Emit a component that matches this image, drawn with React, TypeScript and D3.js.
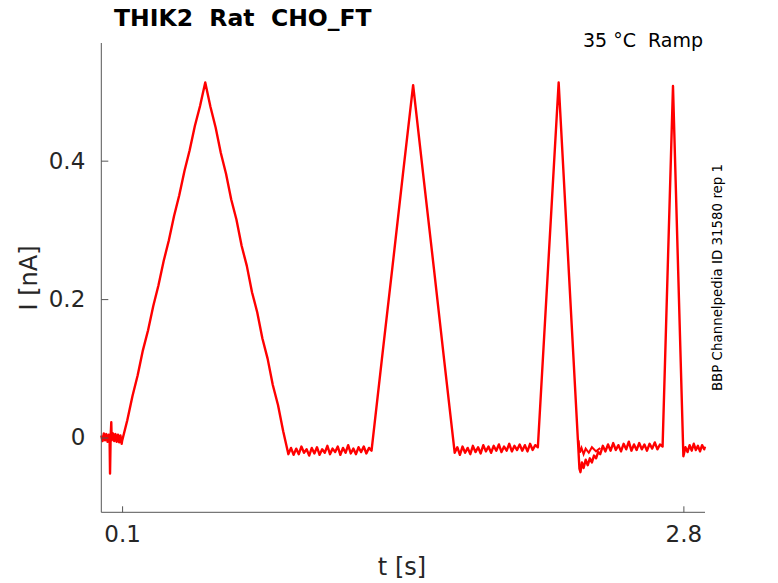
import React, { useEffect, useRef } from 'react';
import * as d3 from 'd3';

// Holding period before the first ramp, t in s, I in nA
const holding: [number, number][] = [
  [0, 0.003], [0.006, -0.005], [0.012, 0.006], [0.018, -0.004], [0.024, 0.005],
  [0.03, -0.006], [0.036, 0.004], [0.04, -0.003], [0.042, -0.052], [0.045, 0.002],
  [0.048, 0.022], [0.05, -0.004], [0.056, 0.006], [0.062, -0.005], [0.068, 0.005],
  [0.074, -0.006], [0.08, 0.004], [0.086, -0.007], [0.092, 0.003], [0.098, -0.009],
  [0.1, -0.005],
];

// Slow ramp (up and down)
const ramp1: [number, number][] = [
  [0.125, 0.025], [0.15, 0.06], [0.175, 0.09], [0.2, 0.126], [0.225, 0.155],
  [0.25, 0.19], [0.275, 0.22], [0.3, 0.255], [0.325, 0.285], [0.35, 0.32],
  [0.375, 0.35], [0.4, 0.385], [0.425, 0.415], [0.45, 0.45], [0.475, 0.479],
  [0.5, 0.513],
  [0.525, 0.478], [0.55, 0.448], [0.575, 0.411], [0.6, 0.381], [0.625, 0.344],
  [0.65, 0.315], [0.675, 0.277], [0.7, 0.248], [0.725, 0.21], [0.75, 0.181],
  [0.775, 0.143], [0.8, 0.114], [0.825, 0.076], [0.85, 0.047], [0.875, 0.009],
  [0.9, -0.024],
];

const gap1: [number, number][] = [
  [0.9125, -0.015], [0.925, -0.025], [0.9375, -0.016], [0.95, -0.024], [0.9625, -0.013],
  [0.975, -0.022], [0.9875, -0.017], [1.0, -0.026], [1.0125, -0.015], [1.025, -0.023],
  [1.0375, -0.014], [1.05, -0.025], [1.0625, -0.017], [1.075, -0.022], [1.0875, -0.012],
  [1.1, -0.024], [1.1125, -0.016], [1.125, -0.021], [1.1375, -0.013], [1.15, -0.025],
  [1.1625, -0.015], [1.175, -0.022], [1.1875, -0.011], [1.2, -0.023], [1.2125, -0.016],
  [1.225, -0.024], [1.2375, -0.014], [1.25, -0.021], [1.2625, -0.013], [1.275, -0.023],
  [1.2875, -0.015], [1.3, -0.019],
];

const ramp2: [number, number][] = [
  [1.35, 0.114], [1.4, 0.245], [1.45, 0.378], [1.5, 0.509],
  [1.55, 0.376], [1.6, 0.244], [1.65, 0.11], [1.7, -0.022],
];

const gap2: [number, number][] = [
  [1.7125, -0.014], [1.725, -0.025], [1.7375, -0.013], [1.75, -0.022], [1.7625, -0.015],
  [1.775, -0.024], [1.7875, -0.012], [1.8, -0.021], [1.8125, -0.014], [1.825, -0.023],
  [1.8375, -0.011], [1.85, -0.02], [1.8625, -0.013], [1.875, -0.022], [1.8875, -0.012],
  [1.9, -0.019], [1.9125, -0.01], [1.925, -0.021], [1.9375, -0.013], [1.95, -0.019],
  [1.9625, -0.009], [1.975, -0.02], [1.9875, -0.012], [2.0, -0.018], [2.0125, -0.01],
  [2.025, -0.019], [2.0375, -0.011], [2.05, -0.02], [2.0625, -0.009], [2.075, -0.018],
  [2.0875, -0.011], [2.1, -0.014],
];

const ramp3: [number, number][] = [
  [2.15, 0.25], [2.2, 0.513], [2.25, 0.234], [2.3, -0.045],
];

// after the third ramp one repetition dips lower before settling
const gap3: [number, number][] = [
  [2.305, -0.05], [2.312, -0.036], [2.32, -0.044], [2.33, -0.032], [2.34, -0.04],
  [2.35, -0.03], [2.36, -0.036], [2.37, -0.026], [2.38, -0.03], [2.39, -0.021],
  [2.4, -0.024], [2.4125, -0.012], [2.425, -0.02], [2.4375, -0.01], [2.45, -0.019],
  [2.4625, -0.008], [2.475, -0.018], [2.4875, -0.011], [2.5, -0.02], [2.5125, -0.009],
  [2.525, -0.017], [2.5375, -0.006], [2.55, -0.019], [2.5625, -0.01], [2.575, -0.018],
  [2.5875, -0.008], [2.6, -0.017], [2.6125, -0.01], [2.625, -0.019], [2.6375, -0.009],
  [2.65, -0.016], [2.6625, -0.007], [2.675, -0.017], [2.6875, -0.01], [2.7, -0.013],
];

const ramp4: [number, number][] = [
  [2.725, 0.248], [2.75, 0.508], [2.775, 0.24], [2.8, -0.027],
];

const tail: [number, number][] = [
  [2.81, -0.014], [2.82, -0.021], [2.83, -0.011], [2.84, -0.019], [2.85, -0.009],
  [2.86, -0.018], [2.87, -0.012], [2.88, -0.02], [2.89, -0.011], [2.9, -0.017],
  [2.904, -0.013],
];

// second repetition that stays on the baseline after ramp 3
const repOverlap: [number, number][] = [
  [2.296, -0.004], [2.302, -0.022], [2.31, -0.015], [2.32, -0.024], [2.33, -0.016],
  [2.345, -0.022], [2.36, -0.014], [2.38, -0.02], [2.4, -0.015],
];

const xTicks = [0.1, 2.8];
const yTicks = [0, 0.2, 0.4];

export default function App() {
  const ref = useRef<SVGSVGElement>(null);

  useEffect(() => {
    if (!ref.current) return;
    const svg = d3.select(ref.current);
    svg.selectAll('*').remove();

    const width = 778;
    const height = 583;
    const left = 101.3, right = 705, top = 43, bottom = 512.3;
    const font = 'DejaVu Sans, sans-serif';
    const textColor = '#262626';
    const axisColor = '#555';

    svg.attr('width', width).attr('height', height);
    svg.append('rect').attr('width', width).attr('height', height).attr('fill', '#fff');

    const x = d3.scaleLinear().domain([0, 2.904]).range([left, right]);
    const y = d3.scaleLinear().domain([-0.108, 0.570]).range([bottom, top]);

    // trace
    const line = d3.line<[number, number]>()
      .x(d => x(d[0]))
      .y(d => y(d[1]));

    const trace = [
      ...holding, ...ramp1, ...gap1, ...ramp2, ...gap2,
      ...ramp3, ...gap3, ...ramp4, ...tail,
    ];

    svg.append('path')
      .attr('d', line(repOverlap))
      .attr('fill', 'none')
      .attr('stroke', '#ff0000')
      .attr('stroke-width', 2);

    svg.append('path')
      .attr('d', line(trace))
      .attr('fill', 'none')
      .attr('stroke', '#ff0000')
      .attr('stroke-width', 2.4)
      .attr('stroke-linejoin', 'round');

    // axes
    const yAxis = d3.axisLeft(y)
      .tickValues(yTicks)
      .tickFormat(d => String(d))
      .tickSizeInner(-7)
      .tickSizeOuter(0)
      .tickPadding(16);

    const gy = svg.append('g')
      .attr('transform', `translate(${left},0)`)
      .call(yAxis);
    gy.select('.domain').attr('stroke', axisColor).attr('d', `M0,${bottom}V${top}`);
    gy.selectAll('.tick line').attr('stroke', axisColor);
    gy.selectAll('.tick text')
      .attr('fill', textColor)
      .style('font-family', font)
      .style('font-size', '23px');

    const xAxis = d3.axisBottom(x)
      .tickValues(xTicks)
      .tickFormat(d => String(d))
      .tickSizeInner(-6)
      .tickSizeOuter(0)
      .tickPadding(13);

    const gx = svg.append('g')
      .attr('transform', `translate(0,${bottom})`)
      .call(xAxis);
    gx.select('.domain').attr('stroke', axisColor).attr('d', `M${left},0H${right}`);
    gx.selectAll('.tick line').attr('stroke', axisColor);
    gx.selectAll('.tick text')
      .attr('fill', textColor)
      .style('font-family', font)
      .style('font-size', '23px');

    // labels
    svg.append('text')
      .attr('x', 402)
      .attr('y', 574.5)
      .attr('text-anchor', 'middle')
      .attr('fill', textColor)
      .style('font-family', font)
      .style('font-size', '24px')
      .text('t [s]');

    svg.append('text')
      .attr('transform', 'translate(36.5,278) rotate(-90)')
      .attr('text-anchor', 'middle')
      .attr('fill', textColor)
      .style('font-family', font)
      .style('font-size', '24px')
      .text('I [nA]');

    svg.append('text')
      .attr('x', 114)
      .attr('y', 26)
      .attr('fill', '#000')
      .style('font-family', font)
      .style('font-size', '23.5px')
      .style('font-weight', 'bold')
      .style('white-space', 'pre')
      .text('THIK2  Rat  CHO_FT');

    svg.append('text')
      .attr('x', 703)
      .attr('y', 47.3)
      .attr('text-anchor', 'end')
      .attr('fill', '#000')
      .style('font-family', font)
      .style('font-size', '19px')
      .style('white-space', 'pre')
      .text('35 °C  Ramp');

    svg.append('text')
      .attr('transform', 'translate(722,277.5) rotate(-90)')
      .attr('text-anchor', 'middle')
      .attr('fill', '#000')
      .style('font-family', font)
      .style('font-size', '13.4px')
      .text('BBP Channelpedia ID 31580 rep 1');
  }, []);

  return (
    <svg
      ref={ref}
      style={{ position: 'absolute', left: 0, top: 0, display: 'block' }}
    />
  );
}
